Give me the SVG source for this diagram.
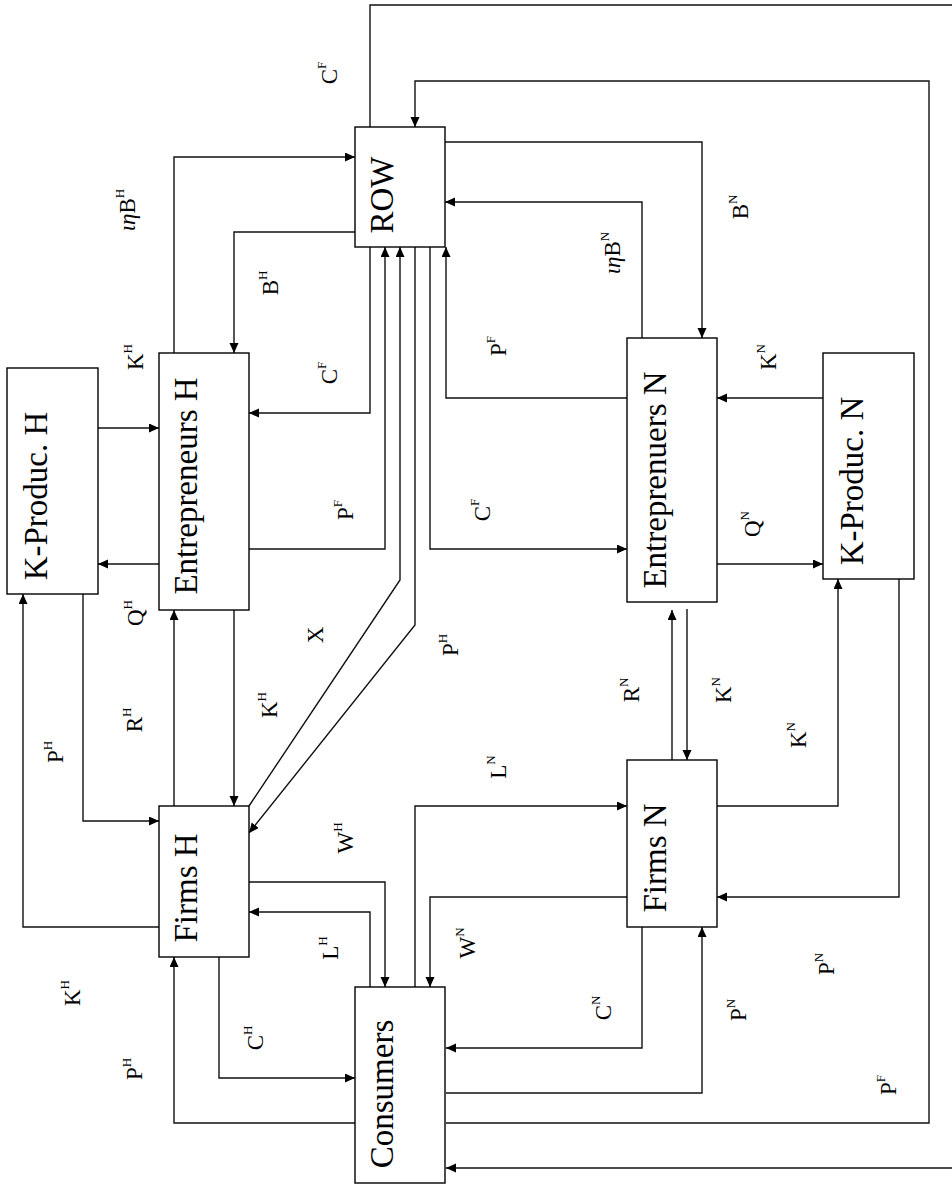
<svg xmlns="http://www.w3.org/2000/svg" width="952" height="1184" viewBox="0 0 952 1184">
<defs>
<marker id="arr" markerUnits="userSpaceOnUse" markerWidth="10" markerHeight="10" refX="10" refY="4.5" orient="auto">
<path d="M0,0 L10,4.5 L0,9 z" fill="#000"/>
</marker>
<style>
.box{fill:#fff;stroke:#000;stroke-width:1.4}
.c{fill:none;stroke:#111;stroke-width:1.4;marker-end:url(#arr)}
.bl{font-family:"Liberation Serif","Times New Roman",serif;font-size:33px;text-anchor:middle;fill:#000}
.lb{font-family:"Liberation Serif","Times New Roman",serif;font-size:23px;text-anchor:middle;fill:#000}
.sup{font-size:13px}
</style>
</defs>
<rect width="952" height="1184" fill="#fff"/>
<g id="connectors">
<path class="c" d="M370,127 V5 H960 V1168 H446"/>
<path class="c" d="M446,1123 H929 V81 H415 V127"/>
<path class="c" d="M174,353 V157 H355"/>
<path class="c" d="M355,232 H234 V353"/>
<path class="c" d="M445,142 H702 V338"/>
<path class="c" d="M642,338 V202 H445"/>
<path class="c" d="M627,398 H446 V247"/>
<path class="c" d="M370,247 V413 H249"/>
<path class="c" d="M249,549 H385 V247"/>
<path class="c" d="M249,806 L400,580 V247"/>
<path class="c" d="M415,247 V625 L249,833"/>
<path class="c" d="M430,247 V549 H627"/>
<path class="c" d="M98,428 H159"/>
<path class="c" d="M159,564 H98"/>
<path class="c" d="M174,806 V610"/>
<path class="c" d="M234,610 V806"/>
<path class="c" d="M83,594 V821 H159"/>
<path class="c" d="M159,927 H23 V594"/>
<path class="c" d="M219,957 V1078 H355"/>
<path class="c" d="M355,1123 H174 V957"/>
<path class="c" d="M249,882 H385 V987"/>
<path class="c" d="M370,987 V912 H249"/>
<path class="c" d="M415,987 V806 H627"/>
<path class="c" d="M627,897 H430 V987"/>
<path class="c" d="M642,927 V1048 H446"/>
<path class="c" d="M446,1093 H702 V927"/>
<path class="c" d="M717,806 H838 V579"/>
<path class="c" d="M899,579 V897 H717"/>
<path class="c" d="M687,609 V760"/>
<path class="c" d="M672,760 V610"/>
<path class="c" d="M717,564 H823"/>
<path class="c" d="M823,398 H717"/>
</g>
<g id="row"><rect class="box" x="355" y="127" width="90" height="120"/><text class="bl" transform="translate(393,195) rotate(-90)">ROW</text></g>
<g id="entrepreneurs-h"><rect class="box" x="159" y="353" width="90" height="257"/><text class="bl" transform="translate(197,486) rotate(-90)">Entrepreneurs H</text></g>
<g id="k-produc-h"><rect class="box" x="7" y="368" width="91" height="226"/><text class="bl" transform="translate(47,496) rotate(-90)">K-Produc. H</text></g>
<g id="firms-h"><rect class="box" x="159" y="806" width="90" height="151"/><text class="bl" transform="translate(197,888) rotate(-90)">Firms H</text></g>
<g id="consumers"><rect class="box" x="355" y="987" width="90" height="196"/><text class="bl" transform="translate(393,1094) rotate(-90)">Consumers</text></g>
<g id="entrepreneurs-n"><rect class="box" x="627" y="338" width="90" height="264"/><text class="bl" transform="translate(666,480) rotate(-90)">Entreprenuers N</text></g>
<g id="k-produc-n"><rect class="box" x="823" y="353" width="91" height="226"/><text class="bl" transform="translate(863,481) rotate(-90)">K-Produc. N</text></g>
<g id="firms-n"><rect class="box" x="627" y="760" width="90" height="167"/><text class="bl" transform="translate(666,858) rotate(-90)">Firms N</text></g>
<g id="labels">
<text class="lb" transform="translate(337,73) rotate(-90)">C<tspan class="sup" dy="-11">F</tspan></text>
<text class="lb" transform="translate(135,210) rotate(-90)"><tspan font-style="italic">ιη</tspan>B<tspan class="sup" dy="-11">H</tspan></text>
<text class="lb" transform="translate(143,357) rotate(-90)">K<tspan class="sup" dy="-11">H</tspan></text>
<text class="lb" transform="translate(278,283) rotate(-90)">B<tspan class="sup" dy="-11">H</tspan></text>
<text class="lb" transform="translate(337,373) rotate(-90)">C<tspan class="sup" dy="-11">F</tspan></text>
<text class="lb" transform="translate(353,510) rotate(-90)">P<tspan class="sup" dy="-11">F</tspan></text>
<text class="lb" transform="translate(143,613) rotate(-90)">Q<tspan class="sup" dy="-11">H</tspan></text>
<text class="lb" transform="translate(323,635) rotate(-90)">X</text>
<text class="lb" transform="translate(458,645) rotate(-90)">P<tspan class="sup" dy="-11">H</tspan></text>
<text class="lb" transform="translate(63,752) rotate(-90)">P<tspan class="sup" dy="-11">H</tspan></text>
<text class="lb" transform="translate(142,720) rotate(-90)">R<tspan class="sup" dy="-11">H</tspan></text>
<text class="lb" transform="translate(277,705) rotate(-90)">K<tspan class="sup" dy="-11">H</tspan></text>
<text class="lb" transform="translate(353,838) rotate(-90)">W<tspan class="sup" dy="-11">H</tspan></text>
<text class="lb" transform="translate(338,948) rotate(-90)">L<tspan class="sup" dy="-11">H</tspan></text>
<text class="lb" transform="translate(80,993) rotate(-90)">K<tspan class="sup" dy="-11">H</tspan></text>
<text class="lb" transform="translate(263,1038) rotate(-90)">C<tspan class="sup" dy="-11">H</tspan></text>
<text class="lb" transform="translate(142,1069) rotate(-90)">P<tspan class="sup" dy="-11">H</tspan></text>
<text class="lb" transform="translate(475,943) rotate(-90)">W<tspan class="sup" dy="-11">N</tspan></text>
<text class="lb" transform="translate(506,767) rotate(-90)">L<tspan class="sup" dy="-11">N</tspan></text>
<text class="lb" transform="translate(611,1008) rotate(-90)">C<tspan class="sup" dy="-11">N</tspan></text>
<text class="lb" transform="translate(746,1010) rotate(-90)">P<tspan class="sup" dy="-11">N</tspan></text>
<text class="lb" transform="translate(834,964) rotate(-90)">P<tspan class="sup" dy="-11">N</tspan></text>
<text class="lb" transform="translate(896,1085) rotate(-90)">P<tspan class="sup" dy="-11">F</tspan></text>
<text class="lb" transform="translate(806,735) rotate(-90)">K<tspan class="sup" dy="-11">N</tspan></text>
<text class="lb" transform="translate(731,690) rotate(-90)">K<tspan class="sup" dy="-11">N</tspan></text>
<text class="lb" transform="translate(639,690) rotate(-90)">R<tspan class="sup" dy="-11">N</tspan></text>
<text class="lb" transform="translate(760,524) rotate(-90)">Q<tspan class="sup" dy="-11">N</tspan></text>
<text class="lb" transform="translate(490,510) rotate(-90)">C<tspan class="sup" dy="-11">F</tspan></text>
<text class="lb" transform="translate(776,357) rotate(-90)">K<tspan class="sup" dy="-11">N</tspan></text>
<text class="lb" transform="translate(506,346) rotate(-90)">P<tspan class="sup" dy="-11">F</tspan></text>
<text class="lb" transform="translate(620,253) rotate(-90)"><tspan font-style="italic">ιη</tspan>B<tspan class="sup" dy="-11">N</tspan></text>
<text class="lb" transform="translate(748,207) rotate(-90)">B<tspan class="sup" dy="-11">N</tspan></text>
</g>
</svg>
